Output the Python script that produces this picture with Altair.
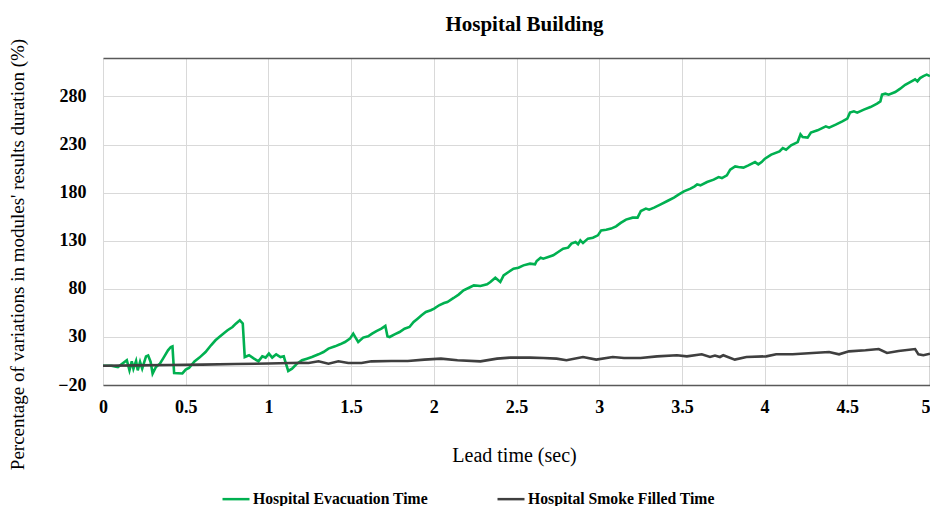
import altair as alt
import pandas as pd

# ---- data ----
evac_x = [0.0, 0.05, 0.09, 0.144, 0.16, 0.174, 0.184, 0.20, 0.21, 0.224, 0.237, 0.26, 0.273,
          0.288, 0.30, 0.32, 0.344, 0.363, 0.393, 0.41, 0.42, 0.43, 0.48, 0.50, 0.52, 0.553,
          0.583, 0.62, 0.653, 0.68, 0.703, 0.727, 0.753, 0.783, 0.803, 0.827, 0.845, 0.857,
          0.883, 0.913, 0.94, 0.963, 0.983, 1.003, 1.023, 1.047, 1.073, 1.093, 1.10, 1.12,
          1.143, 1.173, 1.203, 1.233, 1.263, 1.303, 1.333, 1.363, 1.403, 1.433, 1.463, 1.493,
          1.513, 1.527, 1.543, 1.573, 1.603, 1.627, 1.653, 1.683, 1.707, 1.72, 1.733, 1.763,
          1.793, 1.823, 1.853, 1.878, 1.902, 1.926, 1.952, 1.982, 2.002, 2.032, 2.062, 2.082,
          2.12, 2.15, 2.18, 2.222, 2.242, 2.282, 2.322, 2.342, 2.372, 2.402, 2.422, 2.452,
          2.482, 2.512, 2.542, 2.582, 2.612, 2.622, 2.646, 2.662, 2.692, 2.722, 2.752, 2.782,
          2.812, 2.832, 2.857, 2.872, 2.886, 2.902, 2.932, 2.962, 2.992, 3.012, 3.042, 3.072,
          3.102, 3.13, 3.162, 3.202, 3.232, 3.252, 3.282, 3.302, 3.332, 3.372, 3.412, 3.452,
          3.482, 3.512, 3.552, 3.577, 3.592, 3.612, 3.652, 3.692, 3.722, 3.742, 3.772, 3.792,
          3.822, 3.842, 3.872, 3.902, 3.942, 3.962, 3.982, 4.002, 4.04, 4.09, 4.11, 4.13,
          4.16, 4.2, 4.217, 4.23, 4.26, 4.28, 4.32, 4.37, 4.39, 4.43, 4.47, 4.5, 4.516, 4.54,
          4.56, 4.6, 4.64, 4.68, 4.70, 4.71, 4.73, 4.75, 4.79, 4.82, 4.85, 4.88, 4.91, 4.924,
          4.94, 4.96, 4.98, 5.0]
evac_y = [0.0, 0.0, -1.3, 5.7, -4.7, 4.6, -3.0, 5.0, -4.7, 4.0, -3.0, 9.8, 10.8,
          4.0, -8.2, -1.3, 2.2, 7.4, 16.0, 19.5, 20.2, -7.5, -8.0, -4.0, -2.3, 4.6,
          8.5, 14.3, 21.3, 26.5, 29.9, 33.4, 36.9, 40.3, 43.8, 47.3, 44.0, 9.1,
          10.9, 7.4, 4.6, 9.8, 8.5, 12.6, 8.5, 11.9, 9.1, 9.8, 5.7, -5.4,
          -3.0, 2.2, 5.7, 7.4, 9.1, 11.9, 14.3, 17.8, 20.2, 22.3, 24.7, 28.2,
          33.4, 29.3, 24.7, 29.3, 30.6, 33.4, 36.1, 38.6, 41.5, 30.5, 29.9, 32.7,
          35.1, 38.6, 40.3, 45.5, 49.0, 52.5, 55.9, 57.7, 59.4, 62.9, 65.2, 66.3,
          70.5, 74.0, 78.4, 81.9, 83.6, 82.9, 84.7, 87.1, 91.6, 87.1, 94.0, 97.5,
          101.0, 102.0, 104.4, 106.2, 105.5, 108.9, 112.4, 111.4, 113.1, 114.8, 118.3, 121.8,
          122.8, 127.0, 128.6, 126.3, 130.4, 127.6, 132.2, 133.2, 135.6, 140.8, 141.5, 142.6,
          145.0, 148.5, 152.0, 154.0, 154.0, 160.9, 163.4, 162.3, 164.4, 167.8, 171.3, 174.8,
          178.2, 181.4, 184.2, 186.6, 188.6, 187.6, 191.0, 193.5, 196.2, 195.2, 198.0, 203.9,
          207.3, 206.6, 206.0, 208.4, 211.8, 209.4, 211.8, 215.3, 219.5, 222.9, 226.4, 224.7,
          229.2, 232.6, 240.6, 237.8, 237.2, 242.4, 244.8, 248.9, 247.6, 250.7, 254.1, 256.9, 263.2, 264.5,
          263.2, 266.3, 269.0, 272.5, 274.9, 281.9, 282.9, 281.9, 284.6, 288.1, 292.2, 295.0, 297.8, 295.7,
          299.1, 301.2, 302.7, 301.2]

smoke_x = [0.0, 0.2, 0.4, 0.6, 0.8, 1.0, 1.2, 1.243, 1.303, 1.363, 1.423, 1.483, 1.563, 1.623,
           1.743, 1.843, 1.943, 2.043, 2.143, 2.282, 2.382, 2.462, 2.582, 2.662, 2.742, 2.802,
           2.902, 2.982, 3.082, 3.15, 3.25, 3.35, 3.47, 3.53, 3.62, 3.67, 3.70, 3.73, 3.75,
           3.82, 3.89, 4.01, 4.07, 4.17, 4.29, 4.39, 4.45, 4.51, 4.61, 4.69, 4.74, 4.81, 4.91,
           4.93, 4.96, 5.0]
smoke_y = [0.0, 0.4, 0.8, 1.2, 1.8, 2.3, 3.2, 2.9, 4.6, 2.2, 4.6, 2.9, 2.9, 4.6,
           4.9, 4.9, 6.4, 7.4, 5.7, 4.6, 7.4, 8.5, 8.5, 8.1, 7.4, 5.7,
           9.1, 6.4, 9.1, 8.1, 8.1, 9.8, 10.9, 9.8, 11.9, 9.1, 10.6, 9.1, 10.9,
           6.4, 9.1, 9.8, 11.9, 11.9, 13.3, 14.3, 11.9, 15.0, 16.1, 17.4, 13.3, 15.4, 17.4,
           11.9, 10.9, 12.6]

chart_title = "Hospital Building"
series_names = ["Hospital Evacuation Time", "Hospital Smoke Filled Time"]
series_colors = ["#00B050", "#3F3F3F"]
x_ticks = [0, 0.5, 1, 1.5, 2, 2.5, 3, 3.5, 4, 4.5, 5]
y_ticks = [-20, 0, 30, 80, 130, 180, 230, 280]

df = pd.concat([
    pd.DataFrame({"t": evac_x, "v": evac_y, "series": series_names[0], "order": range(len(evac_x))}),
    pd.DataFrame({"t": smoke_x, "v": smoke_y, "series": series_names[1], "order": range(len(smoke_x))}),
])

FONT = "Liberation Serif"
FRAME = "#595959"
GRID = "#d9d9d9"
W = 827

xscale = alt.Scale(domain=[0, 5], nice=False, zero=False)
yscale = alt.Scale(domain=[-20, 320], nice=False, zero=False)

lines = alt.Chart(df).mark_line(strokeWidth=2.6).encode(
    x=alt.X("t:Q", scale=xscale,
            axis=alt.Axis(values=x_ticks, format="~g", title="Lead time (sec)",
                          orient="bottom", domain=True, domainColor=FRAME, domainWidth=1.5,
                          ticks=False, labelPadding=13, labelFont=FONT, labelFontSize=18,
                          labelFontWeight="bold", labelColor="#000000", labelFlush=False,
                          labelOverlap=False,
                          labelAlign={"expr": "datum.value >= 5 ? 'right' : 'center'"},
                          grid=True, gridColor=GRID, gridWidth=1,
                          titleFont=FONT, titleFontSize=20, titleFontWeight="normal",
                          titleColor="#000000", titleX=411, titleY=76,
                          titleBaseline="alphabetic", titleAlign="center")),
    y=alt.Y("v:Q", scale=yscale,
            axis=alt.Axis(values=y_ticks,
                          labelExpr="datum.value == 0 ? '' : datum.label",
                          title="Percentage of variations in modules' results duration (%)",
                          orient="left", domain=False, ticks=False, labelPadding=17,
                          labelFont=FONT, labelFontSize=18, labelFontWeight="bold",
                          labelColor="#000000", labelFlush=False, labelOverlap=False,
                          grid=True, gridColor=GRID, gridWidth=1,
                          titleFont=FONT, titleFontSize=19, titleFontWeight="normal",
                          titleColor="#000000", titleX=-80, titleY=196,
                          titleBaseline="alphabetic", titleAlign="center", titleAngle=270)),
    color=alt.Color("series:N",
                    scale=alt.Scale(domain=series_names, range=series_colors),
                    legend=alt.Legend(title=None, orient="none", direction="horizontal",
                                      legendX=118, legendY=426,
                                      symbolType="stroke", symbolSize=729,
                                      symbolStrokeWidth=2.5, labelOffset=2,
                                      labelFont=FONT, labelFontSize=15.7, labelLimit=0,
                                      labelFontWeight="bold", labelColor="#000000",
                                      columnPadding=64)),
    order="order:Q",
)

frame = alt.Chart(df).mark_point(opacity=0).encode(
    x=alt.X("t:Q", scale=xscale,
            axis=alt.Axis(orient="top", domain=True, domainColor=FRAME, domainWidth=1.5,
                          ticks=False, labels=False, grid=False,
                          title=chart_title, titleFont=FONT, titleFontSize=21,
                          titleFontWeight="bold", titleColor="#000000",
                          titleX=421, titleY=-28, titleBaseline="alphabetic",
                          titleAlign="center")),
    y=alt.Y("v:Q", scale=yscale,
            axis=alt.Axis(orient="right", domain=True, domainColor=FRAME, domainWidth=1.5,
                          ticks=False, labels=False, grid=False, title=None)),
)

chart = alt.layer(lines, frame).resolve_axis(x="independent", y="independent").properties(
    width=W, height=327,
    autosize=alt.AutoSizeParams(type="none"),
    padding={"left": 95, "top": 50, "right": 0, "bottom": 121},
).configure_view(stroke=None)

chart.save("out.html", embed_options={"renderer": "svg", "actions": False})
